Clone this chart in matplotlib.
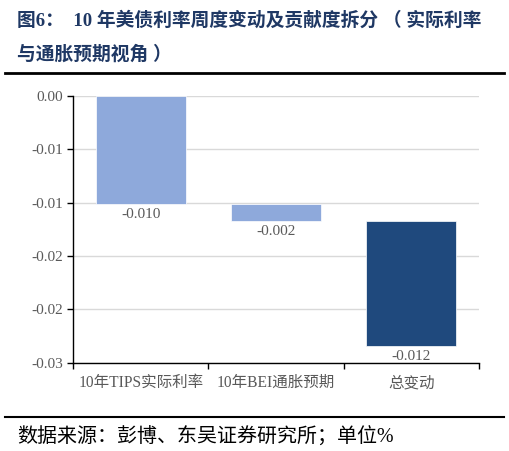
import matplotlib.pyplot as plt
from matplotlib.lines import Line2D
from matplotlib.ticker import FixedLocator, FixedFormatter

plt.rcParams['font.family'] = ['Liberation Serif', 'Noto Sans CJK SC', 'DejaVu Sans']

# 数据
categories = ['10年TIPS实际利率', '10年BEI通胀预期', '总变动']
changes = [-0.0101, -0.0016, -0.0117]
value_labels = ['-0.010', '-0.002', '-0.012']
bar_colors = ['#8EA9DB', '#8EA9DB', '#1F497D']
y_ticks = [0, -0.005, -0.010, -0.015, -0.020, -0.025]
y_tick_labels = ['0.00', '-0.01', '-0.01', '-0.02', '-0.02', '-0.03']

# 瀑布图的起点：前两项累加，总变动接在累计值后面
bottoms = [0, changes[0], changes[0] + changes[1]]

fig = plt.figure(figsize=(5.1, 4.51), dpi=100)
ax = fig.add_axes([0.1431, 0.1958, 0.7961, 0.5914])

x = range(len(categories))
ax.bar(x, changes, bottom=bottoms, width=0.667, color=bar_colors,
       edgecolor='white', linewidth=0.5, zorder=3)

for i in x:
    ax.annotate(value_labels[i], (i, bottoms[i] + changes[i]),
                xytext=(0, -3), textcoords='offset points',
                ha='center', va='top', fontsize=11, color='#595959', zorder=4)

ax.set_xlim(-0.5, 2.5)
ax.set_ylim(-0.025, 0)
ax.yaxis.set_major_locator(FixedLocator(y_ticks))
ax.yaxis.set_major_formatter(FixedFormatter(y_tick_labels))
ax.set_xticks(list(x))
ax.set_xticklabels(categories)
ax.set_xticks([-0.5, 0.5, 1.5, 2.5], minor=True)
ax.tick_params(axis='x', which='major', length=0, pad=9, labelsize=11.2, labelcolor='#595959')
ax.tick_params(axis='x', which='minor', length=4, width=1, color='black', direction='out')
ax.tick_params(axis='y', length=4, width=1, color='black', labelsize=11,
               labelcolor='#595959', pad=3)

ax.grid(axis='y', color='#D9D9D9', linewidth=1, zorder=0)
ax.set_axisbelow(True)
for side in ['top', 'right']:
    ax.spines[side].set_visible(False)
ax.spines['left'].set_color('black')
ax.spines['bottom'].set_color('black')
ax.spines['left'].set_linewidth(1)
ax.spines['bottom'].set_linewidth(1)

# 标题与来源
title_color = '#1F3864'
fig.text(0.033, 0.955, '图6：  10 年美债利率周度变动及贡献度拆分 （ 实际利率',
         fontsize=13.5, fontweight='bold', color=title_color, va='center', ha='left')
fig.text(0.033, 0.878, '与通胀预期视角 ）',
         fontsize=13.5, fontweight='bold', color=title_color, va='center', ha='left')
fig.add_artist(Line2D([0.01, 0.988], [0.839, 0.839], transform=fig.transFigure,
                      color='black', linewidth=2))
fig.add_artist(Line2D([0.01, 0.988], [0.075, 0.075], transform=fig.transFigure,
                      color='black', linewidth=1.5))
fig.text(0.033, 0.031, '数据来源：彭博、东吴证券研究所；单位%',
         fontsize=14.4, color='black', va='center', ha='left')

fig.savefig('out.png', dpi=100)
